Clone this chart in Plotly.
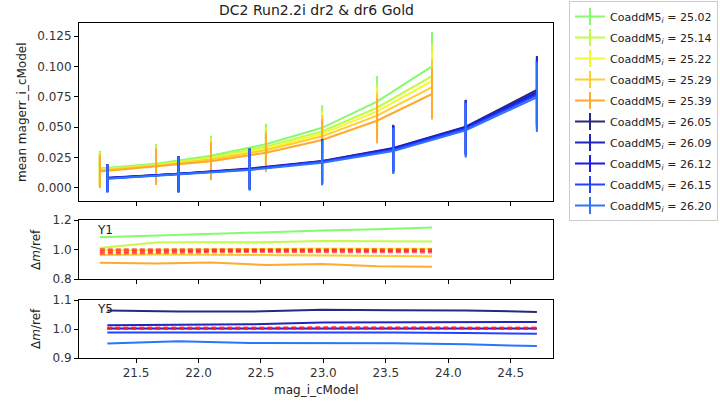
import plotly.graph_objects as go

# ---------------- data ----------------
x_y1 = [21.21, 21.66, 22.10, 22.54, 22.99, 23.43, 23.87]
x_y5 = [21.27, 21.84, 22.41, 22.99, 23.56, 24.14, 24.71]

labels_y1 = ["25.02", "25.14", "25.22", "25.29", "25.39"]
labels_y5 = ["26.05", "26.09", "26.12", "26.15", "26.20"]

magerr_y1 = [
    [0.0160, 0.0200, 0.0265, 0.0360, 0.0495, 0.0710, 0.1000],
    [0.0155, 0.0192, 0.0252, 0.0340, 0.0465, 0.0660, 0.0920],
    [0.0150, 0.0187, 0.0243, 0.0325, 0.0445, 0.0630, 0.0880],
    [0.0145, 0.0182, 0.0234, 0.0310, 0.0425, 0.0595, 0.0830],
    [0.0135, 0.0175, 0.0220, 0.0290, 0.0395, 0.0553, 0.0773],
]
std_y1 = [
    [0.0145, 0.0160, 0.0165, 0.0168, 0.0185, 0.0210, 0.0285],
    [0.0140, 0.0155, 0.0160, 0.0165, 0.0180, 0.0200, 0.0270],
    [0.0140, 0.0150, 0.0158, 0.0160, 0.0175, 0.0195, 0.0250],
    [0.0138, 0.0150, 0.0157, 0.0160, 0.0172, 0.0190, 0.0230],
    [0.0135, 0.0150, 0.0156, 0.0158, 0.0170, 0.0186, 0.0210],
]
magerr_y5 = [
    [0.0085, 0.0118, 0.0160, 0.0222, 0.0330, 0.0505, 0.0806],
    [0.0082, 0.0116, 0.0157, 0.0220, 0.0325, 0.0500, 0.0790],
    [0.0080, 0.0115, 0.0155, 0.0217, 0.0320, 0.0495, 0.0775],
    [0.0079, 0.0113, 0.0153, 0.0215, 0.0315, 0.0488, 0.0765],
    [0.0076, 0.0110, 0.0148, 0.0207, 0.0305, 0.0475, 0.0746],
]
std_y5 = [
    [0.0110, 0.0145, 0.0165, 0.0180, 0.0190, 0.0220, 0.0280],
    [0.0112, 0.0146, 0.0166, 0.0182, 0.0190, 0.0222, 0.0282],
    [0.0113, 0.0148, 0.0168, 0.0183, 0.0190, 0.0223, 0.0283],
    [0.0114, 0.0149, 0.0169, 0.0184, 0.0190, 0.0224, 0.0284],
    [0.0115, 0.0150, 0.0170, 0.0185, 0.0190, 0.0225, 0.0285],
]

ratio_y1 = [
    [1.083, 1.095, 1.108, 1.118, 1.128, 1.138, 1.150],
    [1.010, 1.048, 1.050, 1.050, 1.058, 1.057, 1.054],
    [0.995, 0.998, 1.003, 1.005, 1.006, 1.005, 1.005],
    [0.962, 0.966, 0.964, 0.962, 0.960, 0.957, 0.955],
    [0.910, 0.905, 0.912, 0.895, 0.902, 0.887, 0.883],
]
ref_ratio_y1 = [
    [1.000, 1.000, 1.001, 1.001, 1.001, 1.000, 1.000],
    [0.986, 0.990, 0.992, 0.993, 0.993, 0.992, 0.991],
    [0.973, 0.979, 0.983, 0.985, 0.985, 0.984, 0.982],
]
ratio_y5 = [
    [1.064, 1.060, 1.060, 1.066, 1.065, 1.064, 1.059],
    [1.013, 1.014, 1.016, 1.022, 1.022, 1.023, 1.024],
    [1.002, 1.002, 1.003, 1.004, 1.004, 1.003, 1.002],
    [0.988, 0.988, 0.988, 0.990, 0.988, 0.986, 0.984],
    [0.950, 0.958, 0.952, 0.951, 0.951, 0.947, 0.941],
]
ref_ratio_y5 = [
    [1.004, 1.003, 1.004, 1.006, 1.006, 1.005, 1.004],
    [1.001, 1.000, 1.001, 1.002, 1.002, 1.002, 1.001],
]

x_ticks = [21.5, 22.0, 22.5, 23.0, 23.5, 24.0, 24.5]
y_top_ticks = [0.000, 0.025, 0.050, 0.075, 0.100, 0.125]
y_mid_ticks = [0.8, 1.0, 1.2]
y_bot_ticks = [0.9, 1.0, 1.1]

# ---------------- styles ----------------
colors_y1 = ["rgb(135,250,110)", "rgb(195,250,70)", "rgb(240,250,50)",
             "rgb(255,205,45)", "rgb(255,170,45)"]
colors_y5 = ["rgb(40,40,130)", "rgb(35,35,190)", "rgb(25,25,240)",
             "rgb(35,65,255)", "rgb(45,115,255)"]
red_dash = "rgba(255,20,20,0.65)"
FONT = "DejaVu Sans"

fig = go.Figure()

def add_top(xs, ys, es, col):
    fig.add_trace(go.Scatter(
        x=xs, y=ys, mode="lines", xaxis="x", yaxis="y",
        line=dict(color=col, width=2), showlegend=False, hoverinfo="skip",
        error_y=dict(type="data", array=es, color=col, thickness=2, width=0)))

for ys, es, col in zip(magerr_y1, std_y1, colors_y1):
    add_top(x_y1, ys, es, col)
for ys, es, col in zip(magerr_y5, std_y5, colors_y5):
    add_top(x_y5, ys, es, col)

for ys, col in zip(ratio_y1, colors_y1):
    fig.add_trace(go.Scatter(x=x_y1, y=ys, mode="lines", xaxis="x2", yaxis="y2",
                             line=dict(color=col, width=2), showlegend=False))
for ys in ref_ratio_y1:
    fig.add_trace(go.Scatter(x=x_y1, y=ys, mode="lines", xaxis="x2", yaxis="y2",
                             line=dict(color=red_dash, width=2.5, dash="5px,3px"),
                             showlegend=False))
for ys, col in zip(ratio_y5, colors_y5):
    fig.add_trace(go.Scatter(x=x_y5, y=ys, mode="lines", xaxis="x3", yaxis="y3",
                             line=dict(color=col, width=2), showlegend=False))
for ys in ref_ratio_y5:
    fig.add_trace(go.Scatter(x=x_y5, y=ys, mode="lines", xaxis="x3", yaxis="y3",
                             line=dict(color=red_dash, width=2.5, dash="5px,3px"),
                             showlegend=False))

# legend-only entries
for lab, col in list(zip(labels_y1, colors_y1)) + list(zip(labels_y5, colors_y5)):
    fig.add_trace(go.Scatter(
        x=[None], y=[None], mode="lines+markers", xaxis="x", yaxis="y",
        name=f"CoaddM5<sub><i>i</i></sub> = {lab}", legendgroup=lab,
        line=dict(color=col, width=2),
        marker=dict(symbol="line-ns-open", size=12, color=col,
                    line=dict(color=col, width=2))))

# ---------------- layout ----------------
L, R, T, B = 79, 553, 0, 358
W, H = 720, 403
ph = B - T
pw = R - L

def dom(top_px, bot_px):
    return [(B - bot_px) / ph, (B - top_px) / ph]

axis_common = dict(showline=True, mirror=True, linecolor="#000", linewidth=1,
                   ticks="outside", ticklen=4, tickcolor="#000", showgrid=False,
                   zeroline=False, tickfont=dict(family=FONT, size=12, color="#333"))
xr = [21.043, 24.839]

fig.update_layout(
    width=W, height=H,
    margin=dict(l=L, r=W - R, t=T, b=H - B, autoexpand=False),
    paper_bgcolor="white", plot_bgcolor="white",
    font=dict(family=FONT, size=12, color="#222"),
    xaxis=dict(domain=[0, 1], anchor="y", range=xr, tickvals=x_ticks,
               showticklabels=False, **axis_common),
    xaxis2=dict(domain=[0, 1], anchor="y2", range=xr, tickvals=x_ticks,
                showticklabels=False, matches="x", **axis_common),
    xaxis3=dict(domain=[0, 1], anchor="y3", range=xr, tickvals=x_ticks,
                ticktext=[f"{v:.1f}" for v in x_ticks], matches="x", **axis_common),
    yaxis=dict(domain=dom(23, 201), anchor="x", range=[-0.0107, 0.1357],
               tickvals=y_top_ticks, ticktext=[f"{v:.3f}" for v in y_top_ticks],
               **axis_common),
    yaxis2=dict(domain=dom(220, 279), anchor="x2", range=[0.8, 1.2],
                tickvals=y_mid_ticks, ticktext=[f"{v:.1f}" for v in y_mid_ticks],
                **axis_common),
    yaxis3=dict(domain=dom(300, 358), anchor="x3", range=[0.9, 1.1],
                tickvals=y_bot_ticks, ticktext=[f"{v:.1f}" for v in y_bot_ticks],
                **axis_common),
    legend=dict(x=(718 - L) / pw, y=(B - 1) / ph, xanchor="right", yanchor="top",
                bordercolor="#cccccc", borderwidth=1, bgcolor="white",
                font=dict(family=FONT, size=11, color="#222"),
                tracegroupgap=2, itemwidth=30),
)

def px_x(p):
    return (p - L) / pw

def px_y(p):
    return (B - p) / ph

ann = [
    dict(text="DC2 Run2.2i dr2 &amp; dr6 Gold", x=px_x(316), y=px_y(10),
         font=dict(size=14, family=FONT, color="#222"), textangle=0),
    dict(text="mean magerr_i_cModel", x=px_x(22), y=px_y(112), textangle=-90),
    dict(text="Δ<i>m</i>/ref", x=px_x(36), y=px_y(250), textangle=-90),
    dict(text="Δ<i>m</i>/ref", x=px_x(36), y=px_y(329), textangle=-90),
    dict(text="mag_i_cModel", x=px_x(316), y=px_y(390), textangle=0),
    dict(text="Y1", x=px_x(105), y=px_y(230), textangle=0),
    dict(text="Y5", x=px_x(105), y=px_y(309), textangle=0),
]
for a in ann:
    a.setdefault("font", dict(size=12, family=FONT, color="#222"))
    fig.add_annotation(xref="paper", yref="paper", showarrow=False,
                       xanchor="center", yanchor="middle", **a)

fig.write_html("out.html")
